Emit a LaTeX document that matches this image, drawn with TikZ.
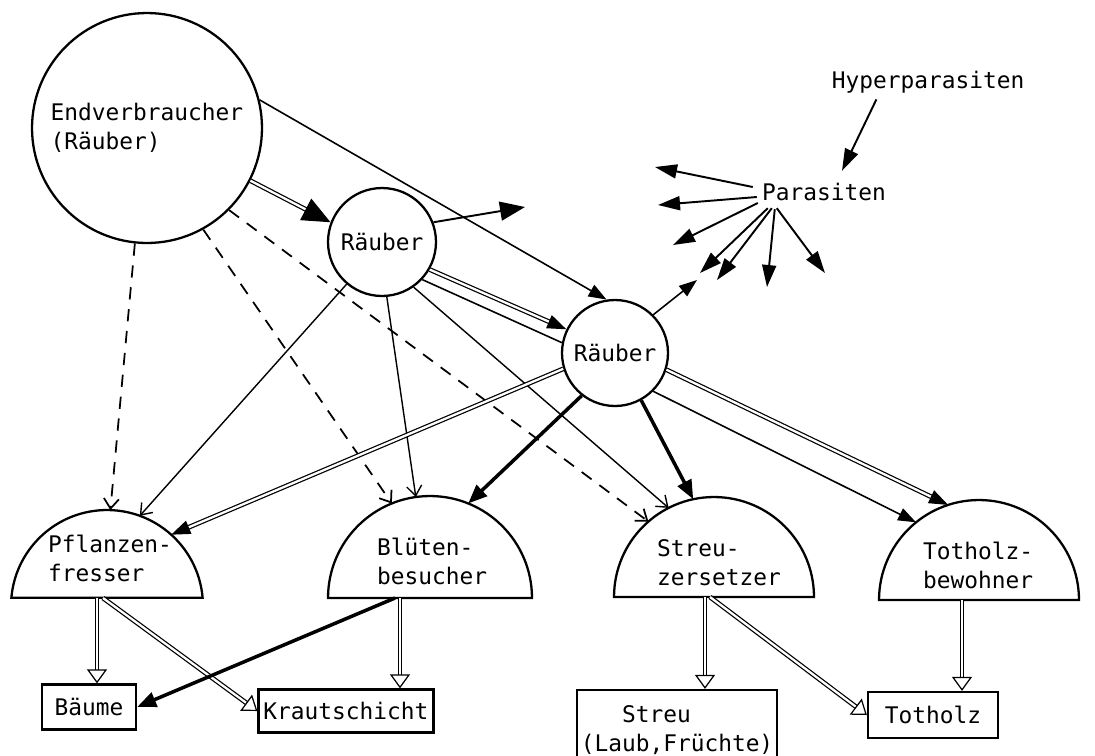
\documentclass[tikz,border=0pt]{standalone}
\usepackage{fontspec}
\setmonofont{DejaVu Sans Mono}
\usepackage{tikz}
\usetikzlibrary{arrows.meta}

\begin{document}
\begin{tikzpicture}[x=0.02cm, y=-0.02cm,
  every node/.style={font=\ttfamily\fontsize{13}{16.5}\selectfont},
  ring/.style={circle, draw, line width=1.3pt, inner sep=0pt},
  dome/.style={circle, inner sep=0pt, outer sep=0pt},
  domeline/.style={line width=1.3pt},
  box/.style={draw, line width=1.3pt, inner sep=0pt},
  feed/.style={line width=0.9pt, -{Triangle[length=0.36cm, width=0.26cm]}},
  bighead/.style={-{Triangle[length=0.56cm, width=0.48cm]}},
  barb/.style={line width=0.8pt, -{Straight Barb[length=0.2cm, width=0.3cm]}},
  weakfeed/.style={barb, line width=1pt, dash pattern=on 7pt off 5.5pt},
  strongfeed/.style={line width=2pt, -{Triangle[length=0.38cm, width=0.3cm]}},
  dblfeed/.style={double, double distance=1.3pt, line width=0.7pt, -{Triangle[length=0.38cm, width=0.28cm]}},
  dblopen/.style={double, double distance=1.3pt, line width=0.7pt, -{Triangle[open, length=0.28cm, width=0.4cm]}},
  parfeed/.style={line width=1.1pt, -{Triangle[length=0.44cm, width=0.28cm]}}
]
\useasboundingbox (0,0) rectangle (1095,755);

% Predators
\node[ring, minimum size=4.6cm, align=left] (endv) at (147,128) {Endverbraucher\\(Räuber)};
\node[ring, minimum size=2.16cm] (r1) at (382,242) {Räuber};
\node[ring, minimum size=2.12cm] (r2) at (615,353) {Räuber};

% Parasites
\node[inner sep=0pt] (hyper) at (928,82) {Hyperparasiten};
\node[inner sep=0pt] (para) at (824,192) {Parasiten};

% Consumer groups (domes)
\node[dome, minimum size=3.84cm] (pf) at (107,606) {};
\node[dome, minimum size=4.08cm] (bl) at (430,598) {};
\node[dome, minimum size=4cm] (st) at (714,597) {};
\node[dome, minimum size=4cm] (to) at (979,600) {};
\draw[domeline] (pf.5) arc[start angle=5, end angle=175, radius=1.92cm] -- cycle;
\draw[domeline] (bl.0) arc[start angle=0, end angle=180, radius=2.04cm] -- cycle;
\draw[domeline] (st.0) arc[start angle=0, end angle=180, radius=2cm] -- cycle;
\draw[domeline] (to.0) arc[start angle=0, end angle=180, radius=2cm] -- cycle;
\node[align=left] (pfT) at (110,558) {Pflanzen-\\fresser};
\node[align=left] (blT) at (432,561) {Blüten-\\besucher};
\node[align=left] (stT) at (719,563) {Streu-\\zersetzer};
\node[align=left] (toT) at (978,565) {Totholz-\\bewohner};

% Resources
\node[box, minimum width=1.88cm, minimum height=0.9cm] (baeume) at (89,707) {Bäume};
\node[box, minimum width=3.5cm, minimum height=0.86cm] (kraut) at (346,711) {Krautschicht};
\node[box, minimum width=4cm, minimum height=1.6cm, align=left] (streu) at (677,730) {\phantom{(La}Streu\\(Laub,Früchte)};
\node[box, minimum width=2.6cm, minimum height=0.92cm] (totholz) at (933,715) {Totholz};

% chord points
\coordinate (pfB1) at (97,598);
\coordinate (pfB2) at (103,598);
\coordinate (blB1) at (395,598);
\coordinate (blB2) at (400,598);
\coordinate (stB1) at (705,597);
\coordinate (stB2) at (710,597);
\coordinate (toB) at (962,600);

% free arrow ends
\coordinate (r1out) at (525,207);
\coordinate (r2out) at (697,280);
\coordinate (p1) at (655,167);
\coordinate (p2) at (658,205);
\coordinate (p3) at (673,245);
\coordinate (p4) at (700,273);
\coordinate (p5) at (717,280);
\coordinate (p6) at (767,287);
\coordinate (p7) at (825,273);

% Endverbraucher
\draw[feed] (endv.14) -- (r2.99);
\draw[dblfeed, bighead] (endv.-27) -- (r1.159);
\draw[weakfeed] (endv.-96) -- (pf.88);
\draw[weakfeed] (endv.-61) -- (bl.112);
\draw[weakfeed] (endv.-45) -- (st.131);

% first Raeuber
\draw[feed, line width=1.1pt, -{Triangle[length=0.5cm, width=0.38cm]}] (r1.21) -- (r1out);
\draw[dblfeed] (r1.-30) -- (r2.154);
\draw[line width=0.9pt] (r1.-43) -- (r2.169);
\draw[barb] (r1.-55) -- (st.117);
\draw[barb] (r1.-85) -- (bl.98);
\draw[barb] (r1.-130) -- (pf.70);

% second Raeuber
\draw[feed] (r2.45) -- (r2out);
\draw[dblfeed] (r2.-163) -- (pf.48);
\draw[strongfeed] (r2.-128) -- (bl.68);
\draw[strongfeed] (r2.-61) -- (st.102);
\draw[feed] (r2.-45) -- (to.129);
\draw[dblfeed] (r2.-18) -- (to.108);

% Parasiten
\draw[parfeed] ([shift={(45,6)}]hyper.south west) -- ([shift={(18,-12)}]para.north);
\draw[parfeed] ([shift={(-9,-5)}]para.west) -- (p1);
\draw[parfeed] ([shift={(-5,5)}]para.west) -- (p2);
\draw[parfeed] ([shift={(-4,11)}]para.west) -- (p3);
\draw[parfeed] ([shift={(6,7)}]para.south west) -- (p4);
\draw[parfeed] ([shift={(10,7)}]para.south west) -- (p5);
\draw[parfeed] ([shift={(13,8)}]para.south west) -- (p6);
\draw[parfeed] ([shift={(15,7)}]para.south west) -- (p7);

% to the resources
\draw[dblopen] (pfB1) -- (pfB1 |- baeume.north);
\draw[dblopen] (pfB2) -- (kraut.west);
\draw[strongfeed] (blB1) -- (baeume.east);
\draw[dblopen] (blB2) -- (blB2 |- kraut.north);
\draw[dblopen] (stB1) -- (stB1 |- streu.north);
\draw[dblopen] (stB2) -- (totholz.west);
\draw[dblopen] (toB) -- (toB |- totholz.north);
\end{tikzpicture}
\end{document}
